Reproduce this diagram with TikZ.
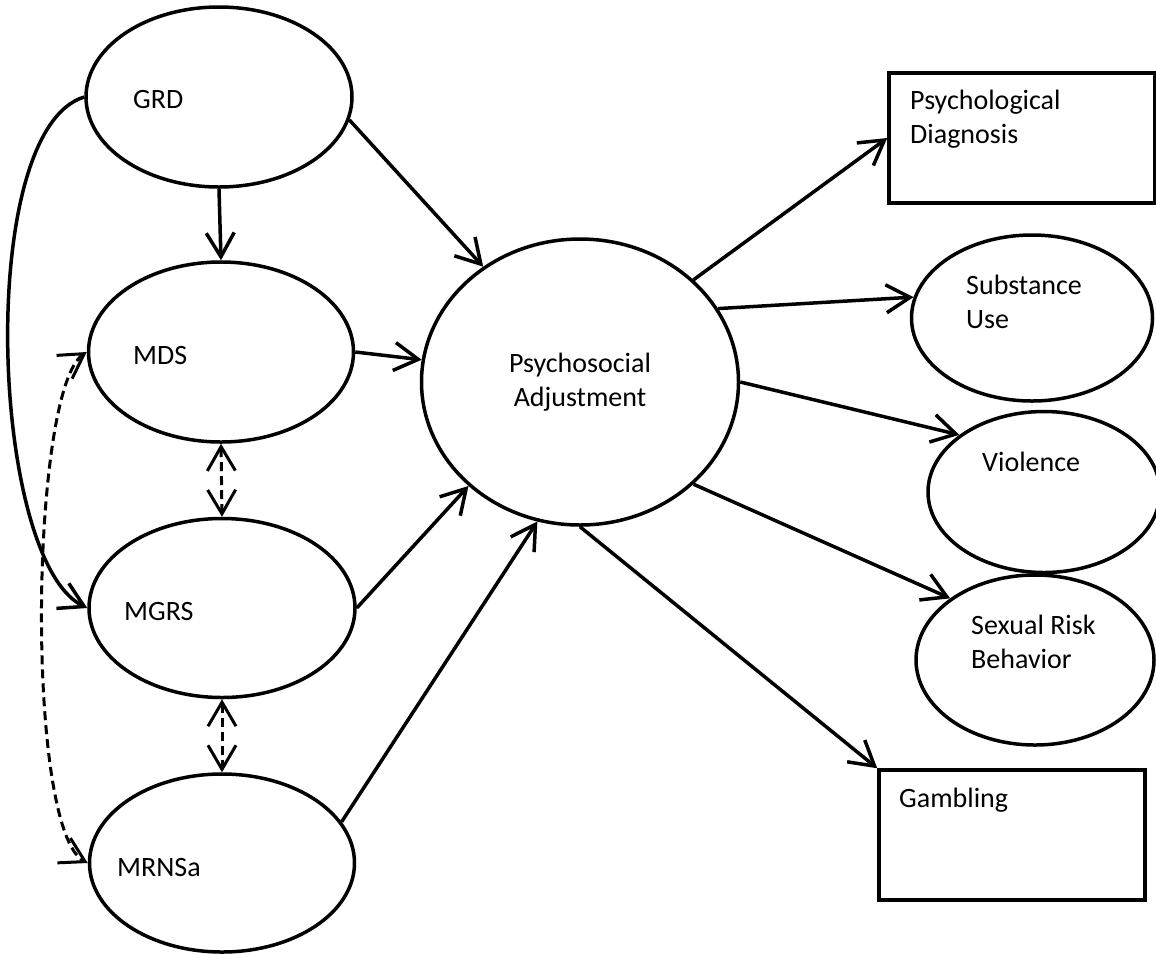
\documentclass[tikz,border=0pt]{standalone}
\usepackage{fontspec}
\setmainfont{Carlito}
\usetikzlibrary{shapes.geometric,arrows.meta}

\begin{document}
\begin{tikzpicture}[x=1pt, y=-1pt]
    % Styles for constructs, outcomes and paths
    \tikzset{
        construct/.style={ellipse, draw, line width=3.5pt, inner sep=0pt},
        outcome/.style={rectangle, draw, line width=3.5pt, inner sep=0pt, minimum width=266pt, minimum height=130pt},
        lbl/.style={font={\fontsize{28pt}{34pt}\selectfont}, inner sep=0pt, align=left},
        barb/.tip={Straight Barb[length=24pt, width=28pt]},
        effect/.style={line width=3.5pt, -barb},
        corr/.style={line width=3pt, dash pattern=on 9pt off 5pt, barb-barb}
    }

    \useasboundingbox (0,0) rectangle (1156,954);

    % Predictors on the left
    \node[construct, minimum width=266pt, minimum height=180pt] (GRD) at (219,97) {};
    \node[construct, minimum width=265pt, minimum height=180pt] (MDS) at (221,352) {};
    \node[construct, minimum width=266pt, minimum height=179pt] (MGRS) at (222,608) {};
    \node[construct, minimum width=265pt, minimum height=178pt] (MRNSa) at (222,863) {};

    % Central mediator
    \node[construct, minimum width=317pt, minimum height=286pt, lbl, align=center] (PA) at (580,382) {Psychosocial\\Adjustment};

    % Outcomes on the right
    \node[outcome] (PD) at (1022,138) {};
    \node[construct, minimum width=241pt, minimum height=166pt] (SU) at (1032,318) {};
    \node[construct, minimum width=232pt, minimum height=161pt] (VI) at (1044,492) {};
    \node[construct, minimum width=238pt, minimum height=170pt] (SR) at (1035,660) {};
    \node[outcome] (GA) at (1012,835) {};

    % Labels inside the shapes (base = last line)
    \node[lbl, anchor=base west] (GRDtxt) at (133,108) {GRD};
    \node[lbl, anchor=base west] (MDStxt) at (133,364) {MDS};
    \node[lbl, anchor=base west] (MGRStxt) at (124,620) {MGRS};
    \node[lbl, anchor=base west] (MRNSatxt) at (117,876) {MRNSa};
    \node[lbl, anchor=base west] (PDtxt) at (910,143) {Psychological\\Diagnosis};
    \node[lbl, anchor=base west] (SUtxt) at (966,328) {Substance\\Use};
    \node[lbl, anchor=base west] (VItxt) at (982,471) {Violence};
    \node[lbl, anchor=base west] (SRtxt) at (971,668) {Sexual Risk\\Behavior};
    \node[lbl, anchor=base west] (GAtxt) at (899,807) {Gambling};

    % Direct paths
    \foreach \src/\dst in {
        GRD.south/MDS.north,
        GRD.-10/PA.130,
        MDS.east/PA.172,
        MGRS.east/PA.223,
        MRNSa.19/PA.253,
        PA.42/PD.west,
        PA.28/SU.170,
        PA.east/VI.146,
        PA.-42/SR.144,
        PA.south/GA.north west%
    } {
        \draw[effect] (\src) -- (\dst);
    }

    % Curved path from GRD to MGRS
    \draw[effect] (GRD.west) .. controls (-25,130) and (-10,560) .. (MGRS.west);

    % Correlations between predictors
    \draw[corr] (MDS.south) -- (MGRS.north);
    \draw[corr] (MGRS.south) -- (MRNSa.north);
    \draw[corr] (MDS.west) .. controls (30,390) and (25,830) .. (MRNSa.west);
\end{tikzpicture}
\end{document}
